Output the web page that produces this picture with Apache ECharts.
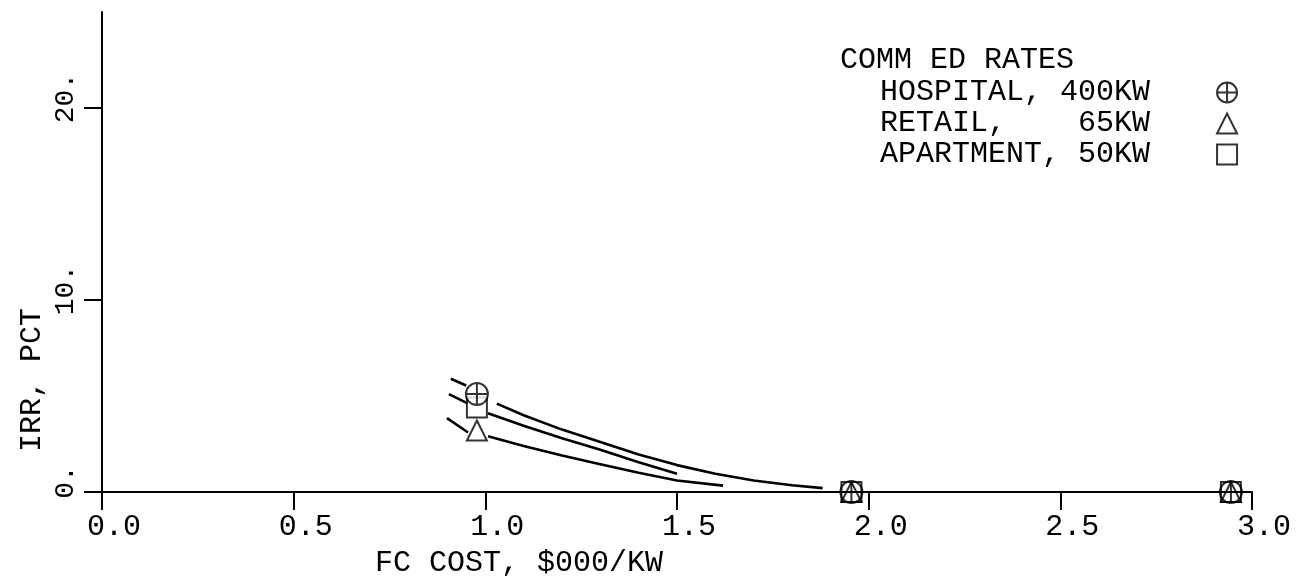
<!DOCTYPE html>
<html>
<head>
<meta charset="utf-8">
<script src="https://cdn.jsdelivr.net/npm/echarts@6/dist/echarts.min.js"></script>
<style>
html,body{margin:0;padding:0;background:#fff;}
#chart{width:1303px;height:584px;}
</style>
</head>
<body>
<div id="chart"></div>
<script>
// ---- data ----
const xTickLabels = ['0.0', '0.5', '1.0', '1.5', '2.0', '2.5', '3.0'];
const yTickValues = [0, 10, 20];
const yTickLabels = ['0.', '10.', '20.'];
const legendTitle = 'COMM ED RATES';
const seriesNames = ['HOSPITAL, 400KW', 'RETAIL,    65KW', 'APARTMENT, 50KW'];
const xAxisName = 'FC COST, $000/KW';
const yAxisName = 'IRR, PCT';

// IRR curves (x = FC cost $000/kW, y = IRR pct); each curve broken where its marker sits
const hospitalHead = [[0.91, 5.9], [0.95, 5.55]];
const hospitalTail = [[1.03, 4.6], [1.1, 4.0], [1.2, 3.25], [1.3, 2.6], [1.4, 1.95], [1.5, 1.4], [1.6, 0.95], [1.7, 0.6], [1.8, 0.35], [1.88, 0.2]];
const apartmentHead = [[0.905, 5.1], [0.955, 4.6]];
const apartmentTail = [[1.007, 4.1], [1.1, 3.45], [1.2, 2.8], [1.3, 2.2], [1.4, 1.55], [1.5, 0.95]];
const retailHead = [[0.9, 3.85], [0.955, 3.1]];
const retailTail = [[1.007, 2.9], [1.1, 2.4], [1.2, 1.9], [1.3, 1.45], [1.4, 1.0], [1.5, 0.6], [1.62, 0.33]];

// plotted symbols
const hospitalPts = [[0.978, 5.1], [1.955, 0], [2.945, 0]];
const retailPts = [[0.978, 3.2], [1.955, 0], [2.945, 0]];
const apartmentPts = [[0.978, 4.4], [1.955, 0], [2.945, 0]];

// ---- chart ----
const FONT = '"Liberation Mono", "DejaVu Sans Mono", monospace';
const circlePlus = 'path://M0,10 A10,10 0 1,1 20,10 A10,10 0 1,1 0,10 Z M10,0 L10,20 M0,10 L20,10';
const markStyle = {
  color: p => (p.value && p.value[1] > 0 ? '#fff' : 'rgba(255,255,255,0)'),
  borderColor: '#000', borderWidth: 2
};
function lineSeries(data) {
  return { type: 'line', data: data, showSymbol: false, symbol: 'none', silent: true,
    lineStyle: { color: '#000', width: 2.6 }, z: 2, animation: false };
}
function markSeries(name, symbol, size, data, z) {
  return { type: 'scatter', name: name, data: data, symbol: symbol, symbolSize: size,
    itemStyle: markStyle, z: z, animation: false };
}

const chart = echarts.init(document.getElementById('chart'), null, { renderer: 'canvas' });
const legendIconStyle = { color: '#fff', borderColor: '#000', borderWidth: 2 };
chart.setOption({
  backgroundColor: '#fff',
  animation: false,
  title: {
    text: legendTitle, left: 835, top: 39,
    textStyle: { fontFamily: FONT, fontSize: 30, fontWeight: 'normal', color: '#000', lineHeight: 32 }
  },
  legend: {
    orient: 'vertical', left: 875, top: 72, align: 'right', selectedMode: false,
    itemWidth: 20, itemHeight: 20, itemGap: 0,
    formatter: n => n + '   ',
    textStyle: { fontFamily: FONT, fontSize: 30, color: '#000', lineHeight: 31, padding: [0, 8, 0, 0] },
    data: [
      { name: seriesNames[0], icon: circlePlus, itemStyle: legendIconStyle },
      { name: seriesNames[1], icon: 'triangle', itemStyle: legendIconStyle },
      { name: seriesNames[2], icon: 'rect', itemStyle: legendIconStyle }
    ]
  },
  grid: { left: 102, right: 51, top: 12, bottom: 92, containLabel: false },
  xAxis: {
    type: 'value', min: 0, max: 3, interval: 0.5,
    axisLine: { show: true, onZero: false, lineStyle: { color: '#000', width: 2 } },
    axisTick: { show: true, inside: false, length: 18, lineStyle: { color: '#000', width: 2 } },
    splitLine: { show: false },
    axisLabel: {
      margin: 20, color: '#000', fontFamily: FONT, fontSize: 30, padding: [0, 0, 0, 24],
      formatter: (v) => xTickLabels[Math.round(v / 0.5)]
    }
  },
  yAxis: {
    type: 'value', min: 0, max: 25, interval: 10,
    axisLine: { show: true, onZero: false, lineStyle: { color: '#000', width: 2 } },
    axisTick: { show: true, inside: false, length: 18, customValues: yTickValues, lineStyle: { color: '#000', width: 2 } },
    splitLine: { show: false },
    axisLabel: {
      margin: 22, rotate: 90, color: '#000', fontFamily: FONT, fontSize: 28, padding: [0, 0, 0, 20],
      customValues: yTickValues,
      formatter: (v) => yTickLabels[yTickValues.indexOf(v)]
    }
  },
  graphic: [
    { type: 'text', x: 32, y: 380, rotation: Math.PI / 2,
      style: { text: yAxisName, font: '30px ' + FONT, fill: '#000', align: 'center', verticalAlign: 'middle' } },
    { type: 'text', x: 375, y: 563,
      style: { text: xAxisName, font: '30px ' + FONT, fill: '#000', align: 'left', verticalAlign: 'middle' } }
  ],
  series: [
    lineSeries(hospitalHead), lineSeries(hospitalTail),
    lineSeries(apartmentHead), lineSeries(apartmentTail),
    lineSeries(retailHead), lineSeries(retailTail),
    markSeries(seriesNames[2], 'rect', 20, apartmentPts, 3),
    markSeries(seriesNames[1], 'triangle', 20, retailPts, 4),
    markSeries(seriesNames[0], circlePlus, 22, hospitalPts, 5)
  ]
});
</script>
</body>
</html>
